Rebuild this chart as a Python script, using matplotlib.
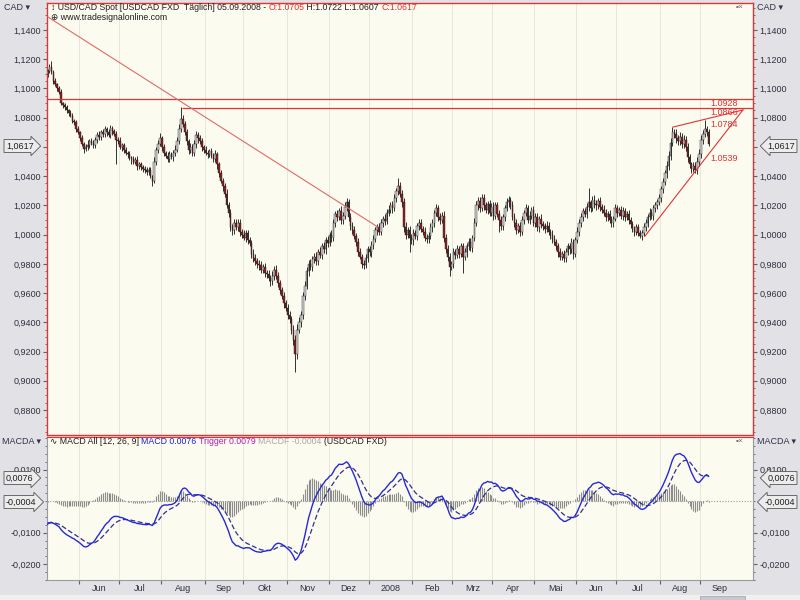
import numpy as np
import pandas as pd
import matplotlib
matplotlib.use('Agg')
import matplotlib.pyplot as plt
from matplotlib.ticker import FixedLocator, MultipleLocator, FuncFormatter, NullFormatter

plt.rcParams['font.family'] = ['Liberation Sans', 'DejaVu Sans']

# --- data (daily USD/CAD) ---
dates = pd.bdate_range('2007-05-09', '2008-09-05')

first_open = 1.1100
closes = [
    1.1120, 1.1145, 1.1110, 1.1050, 1.1030, 1.1000, 1.0975, 1.0900, 1.0885, 1.0870,
    1.0850, 1.0835, 1.0815, 1.0780, 1.0770, 1.0720, 1.0700, 1.0660, 1.0620, 1.0585,
    1.0600, 1.0615, 1.0640, 1.0625, 1.0610, 1.0650, 1.0680, 1.0665, 1.0700, 1.0690,
    1.0720, 1.0700, 1.0680, 1.0730, 1.0710, 1.0690, 1.0650, 1.0640, 1.0600, 1.0610,
    1.0580, 1.0560, 1.0550, 1.0530, 1.0520, 1.0500, 1.0510, 1.0470, 1.0480, 1.0460,
    1.0450, 1.0440, 1.0430, 1.0445, 1.0400, 1.0370, 1.0500, 1.0580, 1.0620, 1.0660,
    1.0600, 1.0560, 1.0540, 1.0520, 1.0550, 1.0530, 1.0560, 1.0580, 1.0640, 1.0720,
    1.0790, 1.0760, 1.0700, 1.0640, 1.0580, 1.0600, 1.0560, 1.0620, 1.0680, 1.0660,
    1.0640, 1.0600, 1.0580, 1.0560, 1.0550, 1.0570, 1.0540, 1.0520, 1.0550, 1.0480,
    1.0420, 1.0370, 1.0330, 1.0280, 1.0200, 1.0150, 1.0050, 1.0030, 1.0080, 1.0050,
    1.0080, 1.0020, 1.0000, 0.9980, 1.0010, 0.9960, 0.9940, 0.9870, 0.9840, 0.9820,
    0.9800, 0.9790, 0.9760, 0.9780, 0.9740, 0.9730, 0.9700, 0.9680, 0.9720, 0.9760,
    0.9720, 0.9670, 0.9620, 0.9580, 0.9530, 0.9500, 0.9450, 0.9420, 0.9350, 0.9280,
    0.9180, 0.9350, 0.9400, 0.9450, 0.9580, 0.9650, 0.9750, 0.9800, 0.9780, 0.9830,
    0.9850, 0.9820, 0.9880, 0.9860, 0.9920, 0.9900, 0.9960, 0.9940, 1.0000, 0.9980,
    1.0080, 1.0140, 1.0120, 1.0160, 1.0100, 1.0130, 1.0190, 1.0220, 1.0120, 1.0060,
    1.0030, 0.9990, 0.9950, 0.9880, 0.9850, 0.9800, 0.9790, 0.9840, 0.9900, 0.9880,
    0.9930, 0.9970, 1.0030, 1.0050, 1.0020, 1.0080, 1.0110, 1.0090, 1.0150, 1.0170,
    1.0200, 1.0180, 1.0250, 1.0300, 1.0330, 1.0280, 1.0220, 1.0050, 1.0000, 1.0030,
    0.9980, 0.9960, 1.0010, 0.9990, 1.0060, 1.0080, 1.0040, 1.0020, 0.9980, 0.9970,
    0.9990, 1.0050, 1.0080, 1.0150, 1.0180, 1.0120, 1.0100, 1.0130, 0.9980, 0.9900,
    0.9850, 0.9780, 0.9800, 0.9880, 0.9860, 0.9900, 0.9870, 0.9920, 0.9850, 0.9880,
    0.9920, 0.9950, 0.9910, 0.9980, 1.0080, 1.0200, 1.0230, 1.0180, 1.0250, 1.0200,
    1.0170, 1.0210, 1.0150, 1.0190, 1.0130, 1.0200, 1.0140, 1.0100, 1.0060, 1.0120,
    1.0180, 1.0220, 1.0240, 1.0200, 1.0120, 1.0080, 1.0030, 1.0060, 1.0020, 1.0100,
    1.0150, 1.0180, 1.0100, 1.0130, 1.0170, 1.0080, 1.0120, 1.0050, 1.0110, 1.0070,
    1.0060, 1.0040, 1.0060, 1.0020, 1.0000, 0.9970, 0.9950, 0.9920, 0.9880, 0.9850,
    0.9870, 0.9840, 0.9880, 0.9920, 0.9900, 0.9950, 0.9870, 0.9960, 1.0020, 1.0080,
    1.0120, 1.0160, 1.0140, 1.0190, 1.0220, 1.0180, 1.0240, 1.0210, 1.0200, 1.0230,
    1.0190, 1.0170, 1.0150, 1.0120, 1.0140, 1.0100, 1.0080, 1.0110, 1.0180, 1.0150,
    1.0170, 1.0130, 1.0160, 1.0120, 1.0140, 1.0100, 1.0070, 1.0040, 1.0020, 1.0050,
    1.0010, 0.9990, 1.0010, 1.0050, 1.0080, 1.0120, 1.0150, 1.0130, 1.0180, 1.0200,
    1.0220, 1.0250, 1.0310, 1.0360, 1.0420, 1.0470, 1.0540, 1.0630, 1.0700, 1.0690,
    1.0660, 1.0640, 1.0670, 1.0620, 1.0650, 1.0600, 1.0530, 1.0480, 1.0450, 1.0470,
    1.0440, 1.0500, 1.0550, 1.0650, 1.0690, 1.0720, 1.0705, 1.0617,
]
# wick lengths above / below the candle body, in pips
up_pips = [
    15, 20, 40, 15, 20, 10, 15, 20, 10, 15,
    20, 10, 15, 20, 10, 15, 20, 10, 25, 15,
    20, 30, 15, 20, 25, 15, 20, 30, 15, 20,
    20, 15, 25, 20, 15, 10, 20, 15, 25, 20,
    15, 20, 15, 25, 10, 15, 20, 25, 15, 20,
    15, 20, 25, 15, 20, 10, 30, 20, 25, 35,
    15, 20, 10, 25, 20, 15, 20, 30, 25, 40,
    80, 30, 20, 25, 15, 30, 20, 25, 30, 20,
    25, 20, 15, 25, 20, 15, 25, 20, 30, 15,
    20, 25, 15, 20, 30, 20, 25, 20, 30, 25,
    30, 25, 20, 30, 25, 20, 25, 20, 30, 25,
    20, 25, 30, 20, 25, 20, 30, 25, 30, 25,
    30, 25, 20, 25, 30, 20, 25, 30, 25, 30,
    30, 40, 35, 30, 25, 35, 30, 25, 30, 25,
    25, 30, 20, 35, 25, 30, 25, 30, 20, 35,
    30, 25, 30, 20, 35, 25, 30, 30, 25, 30,
    25, 30, 20, 25, 30, 20, 25, 30, 25, 20,
    25, 30, 20, 25, 30, 25, 20, 30, 25, 30,
    25, 30, 25, 20, 57, 30, 25, 30, 35, 25,
    30, 25, 30, 25, 20, 30, 25, 20, 30, 25,
    25, 30, 25, 20, 30, 25, 30, 25, 30, 25,
    30, 25, 20, 30, 25, 30, 25, 20, 25, 30,
    25, 30, 25, 20, 35, 30, 25, 30, 25, 30,
    25, 20, 30, 25, 30, 20, 25, 30, 25, 20,
    25, 30, 25, 20, 30, 25, 30, 20, 25, 30,
    20, 30, 25, 30, 20, 25, 30, 25, 20, 30,
    25, 20, 30, 25, 20, 30, 25, 20, 25, 30,
    20, 25, 30, 20, 25, 30, 20, 25, 30, 25,
    30, 25, 20, 25, 100, 20, 25, 30, 25, 20,
    25, 20, 30, 25, 20, 30, 25, 20, 30, 25,
    20, 25, 30, 20, 25, 30, 20, 25, 20, 25,
    20, 25, 20, 30, 25, 20, 30, 25, 20, 25,
    25, 30, 25, 30, 25, 35, 30, 30, 35, 25,
    30, 25, 30, 25, 30, 25, 30, 25, 20, 30,
    25, 30, 35, 30, 25, 64, 25, 17,
]
dn_pips = [
    20, 15, 10, 20, 15, 20, 10, 15, 20, 15,
    15, 20, 10, 15, 20, 15, 10, 20, 15, 25,
    15, 20, 25, 15, 20, 15, 20, 15, 20, 25,
    20, 25, 15, 20, 25, 15, 170, 20, 15, 25,
    20, 15, 25, 20, 40, 15, 20, 25, 20, 15,
    20, 15, 25, 20, 15, 35, 20, 25, 20, 15,
    25, 20, 15, 25, 20, 15, 25, 20, 15, 20,
    20, 25, 20, 30, 25, 20, 25, 20, 25, 30,
    20, 25, 20, 15, 25, 20, 15, 25, 20, 30,
    25, 20, 30, 25, 20, 30, 25, 30, 25, 20,
    25, 30, 25, 20, 30, 25, 20, 30, 25, 30,
    25, 30, 20, 25, 30, 25, 20, 30, 25, 30,
    25, 30, 25, 20, 30, 25, 30, 25, 30, 35,
    122, 30, 25, 30, 25, 30, 25, 30, 25, 30,
    25, 30, 25, 20, 30, 25, 30, 25, 20, 30,
    25, 30, 25, 20, 30, 25, 20, 30, 25, 30,
    25, 20, 30, 25, 20, 30, 25, 20, 30, 25,
    30, 25, 20, 30, 25, 20, 30, 25, 20, 25,
    25, 30, 20, 25, 30, 25, 30, 35, 30, 25,
    100, 25, 30, 20, 25, 30, 25, 20, 25, 30,
    25, 20, 30, 25, 20, 30, 25, 20, 30, 25,
    30, 60, 25, 30, 25, 20, 30, 25, 110, 25,
    30, 25, 20, 30, 25, 20, 30, 25, 20, 30,
    25, 30, 20, 25, 30, 25, 20, 80, 25, 30,
    25, 20, 30, 25, 20, 30, 25, 20, 30, 25,
    30, 25, 20, 30, 25, 20, 30, 25, 30, 25,
    25, 30, 20, 25, 30, 25, 20, 25, 30, 25,
    25, 30, 25, 20, 30, 25, 40, 25, 20, 30,
    25, 30, 20, 25, 30, 25, 20, 25, 30, 25,
    30, 25, 20, 30, 25, 20, 30, 25, 20, 30,
    25, 20, 30, 25, 20, 30, 25, 20, 30, 25,
    20, 15, 25, 20, 25, 30, 20, 25, 30, 25,
    25, 20, 30, 25, 20, 30, 25, 30, 25, 30,
    30, 25, 30, 25, 30, 25, 30, 25, 30, 20,
    20, 25, 30, 25, 30, 25, 30, 10,
]

# drawn levels / trend lines (bar index, price)
h_levels = [1.0928, 1.0866]
level_labels = ['1.0928', '1.0866', '1.0784', '1.0539']
level_label_y = [1.0900, 1.0838, 1.0754, 1.0520]
down_trend = [(0.2, 1.1489), (173.4, 1.0052)]
up_trend = [(313.6, 0.9990), (365.0, 1.0853)]
wedge_top = [(328.3, 1.0736), (365.0, 1.0853)]

# MACD seeds (EMA state before the first visible bar)
ema12_seed, ema26_seed, trig_seed = 1.1165, 1.1240, -0.0068

month_names = ['Jun', 'Jul', 'Aug', 'Sep', 'Okt', 'Nov', 'Dez', '2008',
               'Feb', 'Mrz', 'Apr', 'Mai', 'Jun', 'Jul', 'Aug', 'Sep']

closes = np.array(closes)
opens = np.r_[first_open, closes[:-1]]
highs = np.maximum(opens, closes) + np.array(up_pips) / 10000
lows = np.minimum(opens, closes) - np.array(dn_pips) / 10000
x = np.arange(len(closes))


def ema(vals, n, start):
    a = 2.0 / (n + 1)
    out = []
    e = start
    for v in vals:
        e = e + a * (v - e)
        out.append(e)
    return np.array(out)


macd = ema(closes, 12, ema12_seed) - ema(closes, 26, ema26_seed)
trigger = ema(macd, 9, trig_seed)
hist = macd - trigger

# --- figure ---
W, H = 800, 600
fig = plt.figure(figsize=(8, 6), dpi=100, facecolor='#e2e2e6')
PLOT_BG = '#fbfbef'
RED = '#e03434'
TXT = '#202020'


def fx(px):
    return px / W


def fy(py):
    return 1 - py / H


def comma_fmt(v, p):
    return ('%.4f' % v).replace('.', ',')


def price_fmt(v, p):
    # 1,0600 sits under the last-price box
    if abs(v - 1.06) < 1e-6:
        return ''
    return comma_fmt(v, p)


ax1 = fig.add_axes([fx(47), fy(435), (753 - 47) / W, (435 - 3) / H], facecolor=PLOT_BG)
ax2 = fig.add_axes([fx(47), fy(580), (753 - 47) / W, (580 - 437) / H], facecolor=PLOT_BG)

xmin, xmax = -0.3, 370.3
month_starts = pd.date_range('2007-06-01', '2008-09-01', freq='MS')
mticks = dates.searchsorted(month_starts) - 0.5
mlabels_pos = list((mticks[:-1] + mticks[1:]) / 2) + [mticks[-1] + 10.5]

# candles
up = closes >= opens
ax1.vlines(x, lows, highs, color='#111111', lw=0.6, zorder=2)
body_lo = np.minimum(opens, closes)
body_h = np.maximum(np.abs(closes - opens), 0.0004)
ax1.bar(x, body_h, bottom=body_lo, width=0.82,
        color=np.where(up, '#d6d6d6', '#941e1e'), edgecolor='#1a1a1a',
        linewidth=0.3, zorder=3)

# levels and trendlines
ax1.hlines(h_levels[0], xmin, xmax, color=RED, lw=0.9, zorder=4)
ax1.hlines(h_levels[1], 70.5, xmax, color=RED, lw=0.9, zorder=4)
for seg, col in [(down_trend, '#e06a6a'), (up_trend, RED), (wedge_top, RED)]:
    ax1.plot([seg[0][0], seg[1][0]], [seg[0][1], seg[1][1]], color=col, lw=0.8, zorder=4)
for lab, ly in zip(level_labels, level_label_y):
    ax1.text(347.7, ly, lab, color=RED, fontsize=6.5, va='center', ha='left', zorder=5)

ax1.vlines(mticks, 0, 2, color='#e4e4da', lw=0.6, zorder=0)
ax1.set_xlim(xmin, xmax)
ax1.set_ylim(0.8629, 1.1585)
ax1.yaxis.set_major_locator(MultipleLocator(0.02))
ax1.yaxis.set_minor_locator(MultipleLocator(0.005))
ax1.yaxis.set_major_formatter(FuncFormatter(price_fmt))
ax1.tick_params(axis='y', which='both', left=True, right=True, labelleft=True,
                labelright=True, direction='out', labelsize=6.5, labelcolor='#303040',
                color='#606070')
ax1.tick_params(axis='y', which='major', length=3, pad=1.5)
ax1.tick_params(axis='y', which='minor', length=1.5)
ax1.tick_params(axis='x', which='both', bottom=False, labelbottom=False)
for s in ax1.spines.values():
    s.set_color(RED)
    s.set_linewidth(1.0)

# MACD panel
ax2.vlines(mticks, -1, 1, color='#e4e4da', lw=0.6, zorder=0)
ax2.axhline(0, color='#9a9a9a', lw=0.8, ls=(0, (1, 1.5)), zorder=1)
ax2.vlines(x, 0, hist, color='#8c8c8c', lw=0.8, zorder=2)
ax2.plot(x, trigger, color='#30308a', lw=0.9, ls=(0, (4, 2)), zorder=3)
ax2.plot(x, macd, color='#2828d8', lw=1.0, zorder=4)
ax2.set_xlim(xmin, xmax)
ax2.set_ylim(-0.0250, 0.0203)
ax2.yaxis.set_major_locator(FixedLocator([0.01, -0.01, -0.02]))
ax2.yaxis.set_minor_locator(MultipleLocator(0.0025))
ax2.yaxis.set_major_formatter(FuncFormatter(comma_fmt))
ax2.tick_params(axis='y', which='both', left=True, right=True, labelleft=True,
                labelright=True, direction='out', labelsize=6.5, labelcolor='#303040',
                color='#606070')
ax2.tick_params(axis='y', which='major', length=3, pad=1.5)
ax2.tick_params(axis='y', which='minor', length=1.5)
ax2.xaxis.set_major_locator(FixedLocator(mticks))
ax2.xaxis.set_major_formatter(NullFormatter())
ax2.xaxis.set_minor_locator(FixedLocator(mlabels_pos))
ax2.xaxis.set_minor_formatter(FuncFormatter(lambda v, p: month_names[p] if p < len(month_names) else ''))
ax2.tick_params(axis='x', which='major', length=3, color='#606070', direction='out')
ax2.tick_params(axis='x', which='minor', length=0, labelsize=6.5, labelcolor='#303040', pad=3)
for s in ax2.spines.values():
    s.set_color('#9a9aa0')
    s.set_linewidth(0.8)
ax2.spines['top'].set_color(RED)

# --- header texts ---
renderer = fig.canvas.get_renderer()


def pieces(x0, y0, parts, size=6.3):
    xp = x0
    for txt, col in parts:
        t = fig.text(fx(xp), fy(y0), txt, color=col, fontsize=size, ha='left', va='center')
        xp += t.get_window_extent(renderer=renderer).width


pieces(51, 7, [('\u2195 USD/CAD Spot [USDCAD FXD  T\u00e4glich] 05.09.2008 - ', TXT),
               ('O:1.0705', RED), (' H:1.0722 L:1.0607 ', TXT), ('C:1.0617', RED)])
pieces(51, 17, [('\u2295 www.tradesignalonline.com', TXT)])
pieces(50, 441, [('\u223f MACD All [12, 26, 9] ', TXT), ('MACD 0.0076 ', '#2020d0'),
                 ('Trigger 0.0079 ', '#b020b0'), ('MACDF -0.0004 ', '#a8a8a8'),
                 ('(USDCAD FXD)', TXT)])

for (px, py, s) in [(4, 7, 'CAD \u25be'), (757, 7, 'CAD \u25be'),
                    (2, 441, 'MACDA \u25be'), (757, 441, 'MACDA \u25be')]:
    fig.text(fx(px), fy(py), s, fontsize=6.5, color='#30304a', ha='left', va='center')
for py in (7, 441):
    fig.text(fx(736), fy(py), '\u25aa\u00d7', fontsize=6, color='#707070', ha='left', va='center')

# value boxes on the axes
for (py, s) in [(146, '1,0617'), (478, '0,0076'), (502, '-0,0004')]:
    fig.text(fx(6), fy(py), s, fontsize=6.5, color=TXT, ha='left', va='center', zorder=6,
             bbox=dict(boxstyle='rarrow,pad=0.22', fc='#ececec', ec='#555555', lw=0.6))
    fig.text(fx(795), fy(py), s, fontsize=6.5, color=TXT, ha='right', va='center', zorder=6,
             bbox=dict(boxstyle='larrow,pad=0.22', fc='#ececec', ec='#555555', lw=0.6))

# bottom scrollbar
fig.patches.append(plt.Rectangle((0, 0), 1, 5 / H, transform=fig.transFigure,
                                 fc='#f0f0f0', ec='none', zorder=0))
fig.patches.append(plt.Rectangle((fx(700), 0), 45 / W, 4 / H, transform=fig.transFigure,
                                 fc='#c8c8d0', ec='#a0a0a8', lw=0.5, zorder=1))

fig.savefig('out.png', dpi=100, facecolor=fig.get_facecolor())
